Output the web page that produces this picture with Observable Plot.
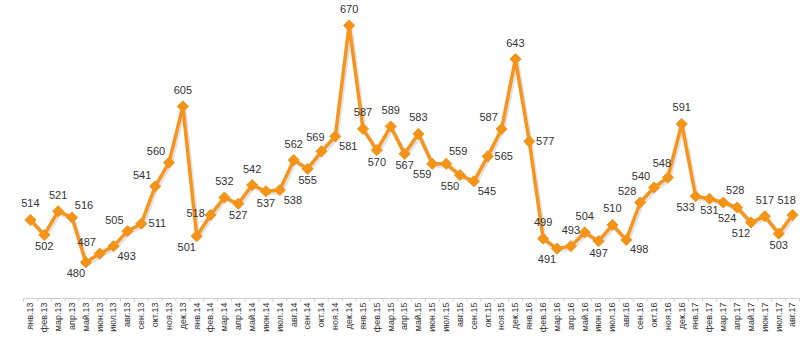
<!DOCTYPE html>
<html>
<head>
<meta charset="utf-8">
<script src="https://cdn.jsdelivr.net/npm/d3@7"></script>
<script src="https://cdn.jsdelivr.net/npm/@observablehq/plot@0.6"></script>
<style>
  html, body { margin: 0; padding: 0; background: #fff; }
  #chart { width: 800px; height: 358px; }
</style>
</head>
<body>
<div id="chart"></div>
<script>
// ---- data ----
const months = [
  "янв.13","фев.13","мар.13","апр.13","май.13","июн.13","июл.13","авг.13","сен.13","окт.13","ноя.13","дек.13",
  "янв.14","фев.14","мар.14","апр.14","май.14","июн.14","июл.14","авг.14","сен.14","окт.14","ноя.14","дек.14",
  "янв.15","фев.15","мар.15","апр.15","май.15","июн.15","июл.15","авг.15","сен.15","окт.15","ноя.15","дек.15",
  "янв.16","фев.16","мар.16","апр.16","май.16","июн.16","июл.16","авг.16","сен.16","окт.16","ноя.16","дек.16",
  "янв.17","фев.17","мар.17","апр.17","май.17","июн.17","июл.17","авг.17"
];
const values = [
  514, 502, 521, 516, 480, 487, 493, 505, 511, 541, 560, 605,
  501, 518, 532, 527, 542, 537, 538, 562, 555, 569, 581, 670,
  587, 570, 589, 567, 583, 559, 559, 550, 545, 565, 587, 643,
  577, 499, 491, 493, 504, 497, 510, 498, 528, 540, 548, 591,
  533, 531, 528, 524, 512, 517, 503, 518
];
// label side relative to its marker
const labelSide = [
  "t","b","t","tr","bl","tl","br","tl","r","tl","tl","t",
  "bl","l","t","b","t","b","br","t","b","tn","br","t",
  "t","b","t","b","t","bl","tr","bl","br","r","tl","t",
  "r","t","bl","t","t","b","t","br","tl","tl","tn","t",
  "bl","b","tr","bl","bl","t","b","tn"
];

const data = values.map((v, i) => ({i, v, month: months[i], side: labelSide[i]}));

const offsets = {
  t:  [0, -16], b: [0, 12], l: [-15, -1], r: [16, 0],
  tl: [-13, -11], tn: [-6, -14], tr: [12, -12], bl: [-10, 11], br: [13, 10]
};

const yMin = 451, yMax = 690;
const orange = "#F7941D";
const font = "'Liberation Sans', Arial, sans-serif";

const labelMarks = Object.entries(offsets).map(([side, [dx, dy]]) =>
  Plot.text(data.filter(d => d.side === side), {
    x: "i", y: "v", text: d => String(d.v), dx, dy,
    fill: "#333", fontSize: 11, textAnchor: "middle", lineAnchor: "middle"
  })
);

const chart = Plot.plot({
  width: 800,
  height: 358,
  marginLeft: 23,
  marginRight: 1,
  marginTop: 0,
  marginBottom: 60,
  style: {fontFamily: font, background: "#fff", overflow: "visible"},
  x: {type: "linear", domain: [-0.5, months.length - 0.5], axis: null},
  y: {domain: [yMin, yMax], axis: null},
  marks: [
    Plot.ruleY([yMin], {stroke: "#cfcfcf", strokeWidth: 1}),
    Plot.ruleX(d3.range(months.length + 1).map(k => k - 0.5), {y1: yMin, y2: yMin - 3, stroke: "#cfcfcf"}),
    Plot.axisX({
      ticks: d3.range(months.length),
      tickFormat: k => months[k],
      tickRotate: -90,
      tickSize: 0,
      tickPadding: 4,
      fontSize: 9,
      fill: "#333",
      label: null
    }),
    Plot.line(data, {x: "i", y: "v", stroke: "#888", strokeOpacity: 0.25, strokeWidth: 4, dx: 1.5, dy: 2}),
    Plot.line(data, {x: "i", y: "v", stroke: orange, strokeWidth: 3.5, strokeLinejoin: "round"}),
    Plot.dot(data, {x: "i", y: "v", symbol: "diamond2", r: 5, fill: "#F39419", stroke: "#F39419", strokeWidth: 1}),
    ...labelMarks
  ]
});

document.getElementById("chart").appendChild(chart);
</script>
</body>
</html>
